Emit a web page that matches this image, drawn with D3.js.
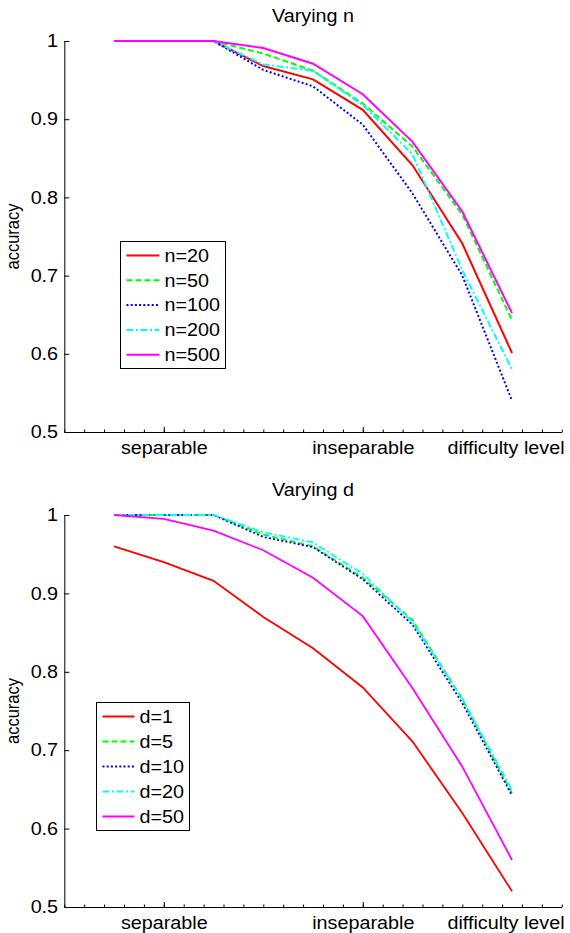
<!DOCTYPE html>
<html>
<head>
<meta charset="utf-8">
<script src="https://cdn.jsdelivr.net/npm/d3@7"></script>
<style>
  body { margin: 0; background: #fff; }
  svg text { font-family: "Liberation Sans", Arial, Helvetica, sans-serif; fill: #000; }
</style>
</head>
<body>
<div id="outer"></div>
<script>

////////// DATA //////////

// difficulty steps along x (same for both panels)
const steps = [1, 2, 3, 4, 5, 6, 7, 8, 9];

// x tick labels
const xTickValues = [2, 6];
const xTickLabels = ['separable', 'inseparable'];
const yTickValues = [0.5, 0.6, 0.7, 0.8, 0.9, 1];

// panel 1 : varying n
const nLabels = ['n=20', 'n=50', 'n=100', 'n=200', 'n=500'];
const accN20  = [1, 1, 1, 0.968, 0.951, 0.912, 0.841, 0.741, 0.601];
const accN50  = [1, 1, 1, 0.984, 0.962, 0.920, 0.865, 0.778, 0.643];
const accN100 = [1, 1, 1, 0.963, 0.942, 0.893, 0.805, 0.700, 0.540];
const accN200 = [1, 1, 1, 0.970, 0.962, 0.918, 0.855, 0.707, 0.580];
const accN500 = [1, 1, 1, 0.991, 0.971, 0.932, 0.871, 0.782, 0.652];

// panel 2 : varying d
const dLabels = ['d=1', 'd=5', 'd=10', 'd=20', 'd=50'];
const accD1  = [0.960, 0.940, 0.916, 0.870, 0.830, 0.780, 0.711, 0.620, 0.520];
const accD5  = [1, 1, 1, 0.975, 0.960, 0.920, 0.866, 0.765, 0.645];
const accD10 = [1, 1, 1, 0.972, 0.959, 0.918, 0.860, 0.760, 0.642];
const accD20 = [1, 1, 1, 0.978, 0.965, 0.925, 0.863, 0.766, 0.649];
const accD50 = [1, 0.995, 0.980, 0.955, 0.920, 0.871, 0.779, 0.679, 0.560];


////////// STYLES //////////
const seriesStyles = [
	{ color: '#ff0000', dash: null },
	{ color: '#00ff00', dash: '6,3' },
	{ color: '#0000ff', dash: '2,2.2' },
	{ color: '#00ffff', dash: '7,2.5,2,2.5' },
	{ color: '#ff00ff', dash: null }
];

const W = 570, H = 933;
const fontSize = 17.5;
const stretch = 1.13;		// text in the picture is a little wide

const panels = [
	{ title: 'Varying n', top: 41, bottom: 432, labels: nLabels,
	  series: [accN20, accN50, accN100, accN200, accN500],
	  legend: { x: 120.5, y: 241.5, w: 105, rowH: 24.8, lineW: 33 }, lineWidth: 2 },
	{ title: 'Varying d', top: 515, bottom: 907, labels: dLabels,
	  series: [accD1, accD5, accD10, accD20, accD50],
	  legend: { x: 96.5, y: 702.5, w: 93, rowH: 25, lineW: 32 }, lineWidth: 1.8 }
];

const xLeft = 64.3, xRight = 561.8;


////////// RENDER //////////
const svg = d3.select('#outer').append('svg')
	.attr('width', W)
	.attr('height', H);

const x = d3.scaleLinear().domain([0, 10]).range([xLeft, xRight]);

panels.forEach(p => {
	const y = d3.scaleLinear().domain([0.5, 1]).range([p.bottom, p.top]);
	const g = svg.append('g');

	// minor x ticks
	g.append('g')
		.attr('transform', `translate(0,${p.bottom})`)
		.call(d3.axisBottom(x).tickValues(d3.range(0, 10.001, 0.4)).tickSizeInner(-2.5).tickSizeOuter(0).tickFormat(''))
		.call(a => a.select('.domain').remove());

	// major x ticks + labels
	const xa = g.append('g')
		.attr('transform', `translate(0,${p.bottom})`)
		.call(d3.axisBottom(x).tickValues(xTickValues).tickSizeInner(-5).tickSizeOuter(0)
			.tickFormat((d, i) => xTickLabels[i]));
	xa.selectAll('text')
		.attr('y', 22).attr('dy', 0)
		.attr('transform', `scale(${stretch},1)`)
		.style('font-size', fontSize + 'px');

	// y axis
	const ya = g.append('g')
		.attr('transform', `translate(${xLeft},0)`)
		.call(d3.axisLeft(y).tickValues(yTickValues).tickSizeInner(-5).tickSizeOuter(0).tickPadding(5.5)
			.tickFormat(d3.format('~g')));
	ya.selectAll('text')
		.attr('transform', `scale(${stretch},1)`)
		.style('font-size', fontSize + 'px');

	g.selectAll('.domain, .tick line').attr('stroke', '#000').attr('stroke-width', 1);
	g.selectAll('.tick text').attr('fill', '#000').style('font-family', '"Liberation Sans", Arial, sans-serif');

	// axis label on the right end
	g.append('text')
		.attr('transform', `translate(506,${p.bottom + 22}) scale(${stretch},1)`)
		.attr('text-anchor', 'middle')
		.style('font-size', fontSize + 'px')
		.text('difficulty level');

	// y label
	g.append('text')
		.attr('transform', `translate(19,${(p.top + p.bottom) / 2}) rotate(-90) scale(1,${stretch})`)
		.attr('text-anchor', 'middle')
		.style('font-size', '16.5px')
		.text('accuracy');

	// title
	g.append('text')
		.attr('transform', `translate(${(xLeft + xRight) / 2},${p.top - 19}) scale(${stretch},1)`)
		.attr('text-anchor', 'middle')
		.style('font-size', fontSize + 'px')
		.text(p.title);

	// lines
	const line = d3.line()
		.x((d, i) => x(steps[i]))
		.y(d => y(d));

	p.series.forEach((s, i) => {
		g.append('path')
			.datum(s)
			.attr('d', line)
			.attr('fill', 'none')
			.attr('stroke', seriesStyles[i].color)
			.attr('stroke-width', p.lineWidth)
			.attr('stroke-dasharray', seriesStyles[i].dash);
	});

	// legend
	const L = p.legend;
	const lg = g.append('g').attr('transform', `translate(${L.x},${L.y})`);
	lg.append('rect')
		.attr('width', L.w)
		.attr('height', L.rowH * 5 + 3)
		.attr('fill', '#fff')
		.attr('stroke', '#000')
		.attr('stroke-width', 1);

	p.labels.forEach((lab, i) => {
		const cy = 14 + i * L.rowH;
		lg.append('line')
			.attr('x1', 6).attr('x2', 6 + L.lineW)
			.attr('y1', cy).attr('y2', cy)
			.attr('stroke', seriesStyles[i].color)
			.attr('stroke-width', p.lineWidth)
			.attr('stroke-dasharray', seriesStyles[i].dash);
		lg.append('text')
			.attr('transform', `translate(${L.lineW + 11},${cy + 6.2}) scale(${stretch},1)`)
			.style('font-size', fontSize + 'px')
			.text(lab);
	});
});

</script>
</body>
</html>
